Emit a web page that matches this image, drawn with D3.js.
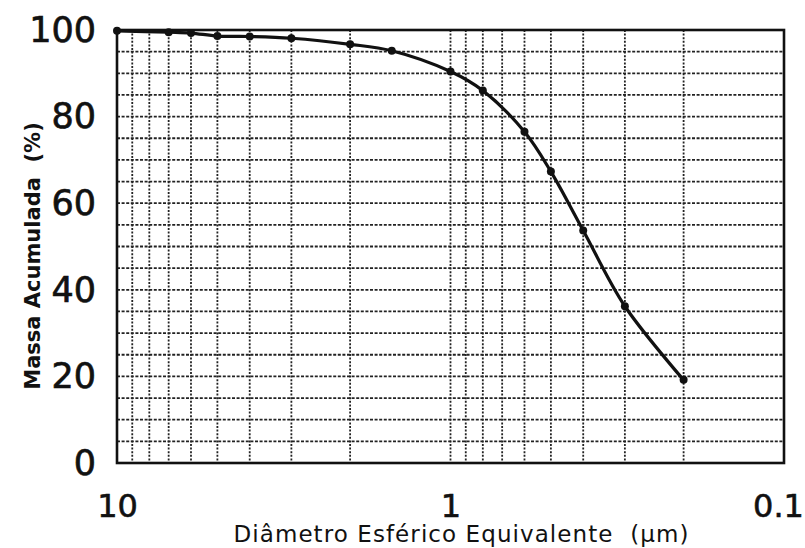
<!DOCTYPE html>
<html>
<head>
<meta charset="utf-8">
<script src="https://cdn.jsdelivr.net/npm/d3@7"></script>
<style>
  html, body { margin: 0; padding: 0; background: #fff; }
  svg { display: block; }
</style>
</head>
<body>
<svg id="chart" width="805" height="548"></svg>
<script>
// ---- data ----
const diameters = [10, 7, 6, 5, 4, 3, 2, 1.5, 1, 0.8, 0.6, 0.5, 0.4, 0.3, 0.2];
const massAcum  = [99.8, 99.5, 99.3, 98.6, 98.5, 98.1, 96.7, 95.2, 90.4, 86.0, 76.5, 67.3, 53.7, 36.2, 19.2];
const xTickValues = [10, 1, 0.1];
const xTickLabels = ["10", "1", "0.1"];
const yTickValues = [0, 20, 40, 60, 80, 100];
const xGridValues = [9, 8, 7, 6, 5, 4, 3, 2, 1, 0.9, 0.8, 0.7, 0.6, 0.5, 0.4, 0.3, 0.2];
const yGridValues = [5, 10, 15, 20, 25, 30, 35, 40, 45, 50, 55, 60, 65, 70, 75, 80, 85, 90, 95];
const xTitle = "Diâmetro Esférico Equivalente  (μm)";
const yTitle = "Massa Acumulada  (%)";

const svg = d3.select("#chart");
const mLeft = 117, mRight = 784, mTop = 30, mBottom = 463;

const x = d3.scaleLog().domain([10, 0.1]).range([mLeft, mRight]);
const y = d3.scaleLinear().domain([0, 100]).range([mBottom, mTop]);

// grid
const g = svg.append("g");
g.selectAll("line.vg").data(xGridValues).join("line")
  .attr("x1", d => x(d)).attr("x2", d => x(d))
  .attr("y1", mTop).attr("y2", mBottom)
  .attr("stroke", "#222").attr("stroke-width", 1.8)
  .attr("stroke-dasharray", "2,1.6");
g.selectAll("line.hg").data(yGridValues).join("line")
  .attr("x1", mLeft).attr("x2", mRight)
  .attr("y1", d => y(d)).attr("y2", d => y(d))
  .attr("stroke", "#222").attr("stroke-width", 1.8)
  .attr("stroke-dasharray", "3,1.6");

// frame
svg.append("rect")
  .attr("x", mLeft).attr("y", mTop)
  .attr("width", mRight - mLeft).attr("height", mBottom - mTop)
  .attr("fill", "none").attr("stroke", "#111").attr("stroke-width", 2.6);

// axes (labels only)
const yAxis = d3.axisLeft(y).tickValues(yTickValues).tickSize(0).tickPadding(21);
const ya = svg.append("g").attr("transform", `translate(${mLeft},0)`).call(yAxis);
ya.select(".domain").remove();
ya.selectAll("text")
  .attr("font-family", "'DejaVu Sans', sans-serif")
  .attr("font-size", 35).attr("fill", "#111")
  .attr("stroke", "#111").attr("stroke-width", 0.7);

const xAxis = d3.axisBottom(x).tickValues(xTickValues)
  .tickFormat((d, i) => xTickLabels[i]).tickSize(0).tickPadding(31);
const xa = svg.append("g").attr("transform", `translate(0,${mBottom})`).call(xAxis);
xa.select(".domain").remove();
xa.selectAll("text")
  .attr("font-family", "'DejaVu Sans', sans-serif")
  .attr("font-size", 32).attr("fill", "#111")
  .attr("stroke", "#111").attr("stroke-width", 0.6);
xa.selectAll(".tick").filter(d => d === 0.1).select("text").attr("dx", -6);

// titles
svg.append("text")
  .attr("x", 461).attr("y", 542)
  .attr("text-anchor", "middle")
  .attr("font-family", "'DejaVu Sans', sans-serif")
  .attr("font-size", 23).attr("fill", "#111")
  .attr("textLength", 455).attr("lengthAdjust", "spacing")
  .style("white-space", "pre")
  .text(xTitle);

svg.append("text")
  .attr("transform", "translate(40,256) rotate(-90)")
  .attr("text-anchor", "middle")
  .attr("font-family", "'DejaVu Sans', sans-serif")
  .attr("font-size", 21).attr("font-weight", "bold").attr("fill", "#111")
  .style("white-space", "pre")
  .text(yTitle);

// curve
const pts = diameters.map((d, i) => [d, massAcum[i]]);
const line = d3.line().x(d => x(d[0])).y(d => y(d[1])).curve(d3.curveCatmullRom.alpha(0.5));
svg.append("path").datum(pts)
  .attr("d", line).attr("fill", "none")
  .attr("stroke", "#111").attr("stroke-width", 3.2);

svg.selectAll("circle.pt").data(pts).join("circle")
  .attr("cx", d => x(d[0])).attr("cy", d => y(d[1]))
  .attr("r", 4).attr("fill", "#111");
</script>
</body>
</html>
